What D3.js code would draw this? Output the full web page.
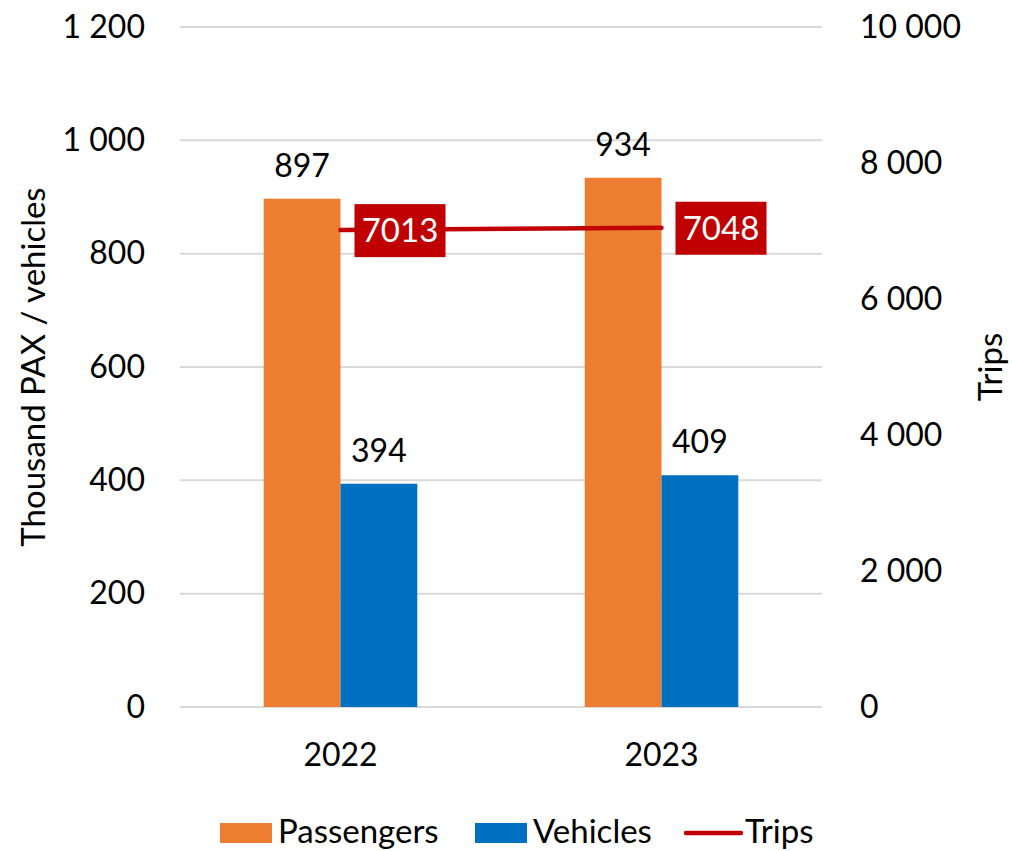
<!DOCTYPE html>
<html lang="en">
<head>
<meta charset="utf-8">
<title>Passengers, vehicles and trips</title>
<script src="https://cdn.jsdelivr.net/npm/d3@7"></script>
<style>
    body { margin: 0; background: #fff; }
    text { font-family: Lato, "Open Sans", sans-serif; fill: #000; }
</style>
</head>
<body>
<script>
    // data
    const years = ["2022", "2023"];
    const passengers = [897, 934];
    const vehicles = [394, 409];
    const trips = [7013, 7048];
    const leftTicks = [0, 200, 400, 600, 800, 1000, 1200];
    const rightTicks = [0, 2000, 4000, 6000, 8000, 10000];

    const W = 1012, H = 851;
    const plot = {left: 180, right: 822, top: 27, bottom: 707};
    const fontSize = 32;
    const colors = {Passengers: "#ED7D31", Vehicles: "#0070C0", Trips: "#C00000"};

    const fmt = v => d3.format(",")(v).replace(/,/g, " ");

    const svg = d3.select("body").append("svg")
        .attr("width", W)
        .attr("height", H);

    const x = d3.scaleBand().domain(years).range([plot.left, plot.right]);
    const xs = d3.scaleBand().domain(["Passengers", "Vehicles"])
        .range([0, x.bandwidth()])
        .paddingInner(0)
        .paddingOuter(1.09);
    const yL = d3.scaleLinear().domain([0, 1200]).range([plot.bottom, plot.top]);
    const yR = d3.scaleLinear().domain([0, 10000]).range([plot.bottom, plot.top]);

    // gridlines
    svg.append("g").selectAll("line")
        .data(leftTicks)
        .join("line")
        .attr("x1", plot.left).attr("x2", plot.right)
        .attr("y1", d => yL(d)).attr("y2", d => yL(d))
        .attr("stroke", "#D9D9D9")
        .attr("stroke-width", 2);

    // left axis
    const leftAxis = d3.axisLeft(yL).tickValues(leftTicks).tickFormat(fmt).tickSize(0).tickPadding(35);
    const gl = svg.append("g").attr("transform", `translate(${plot.left},0)`).call(leftAxis);
    gl.select(".domain").remove();
    gl.selectAll("text").style("font-size", fontSize + "px").attr("fill", "#000").attr("font-family", null);

    // right axis
    const rightAxis = d3.axisRight(yR).tickValues(rightTicks).tickFormat(fmt).tickSize(0).tickPadding(38);
    const gr = svg.append("g").attr("transform", `translate(${plot.right},0)`).call(rightAxis);
    gr.select(".domain").remove();
    gr.selectAll("text").style("font-size", fontSize + "px").attr("fill", "#000").attr("font-family", null);

    // x axis labels
    svg.append("g").selectAll("text")
        .data(years)
        .join("text")
        .attr("x", d => x(d) + x.bandwidth() / 2)
        .attr("y", 766)
        .attr("text-anchor", "middle")
        .style("font-size", fontSize + "px")
        .text(d => d);

    // axis titles
    svg.append("text")
        .attr("transform", "translate(45,367) rotate(-90)")
        .attr("text-anchor", "middle")
        .style("font-size", "33px")
        .text("Thousand PAX / vehicles");

    svg.append("text")
        .attr("transform", "translate(1002,367) rotate(-90)")
        .attr("text-anchor", "middle")
        .style("font-size", "33px")
        .text("Trips");

    // bars
    const series = [
        {name: "Passengers", values: passengers},
        {name: "Vehicles", values: vehicles}
    ];

    series.forEach(s => {
        const g = svg.append("g");
        g.selectAll("rect")
            .data(s.values)
            .join("rect")
            .attr("x", (d, i) => x(years[i]) + xs(s.name))
            .attr("y", d => yL(d))
            .attr("width", xs.bandwidth())
            .attr("height", d => yL(0) - yL(d))
            .attr("fill", colors[s.name]);
        g.selectAll("text")
            .data(s.values)
            .join("text")
            .attr("x", (d, i) => x(years[i]) + xs(s.name) + xs.bandwidth() / 2)
            .attr("y", d => yL(d) - 22)
            .attr("text-anchor", "middle")
            .style("font-size", fontSize + "px")
            .text(d => d);
    });

    // trips line
    const cx = d => x(d) + x.bandwidth() / 2;
    const line = d3.line()
        .x((d, i) => cx(years[i]))
        .y(d => yR(d));

    svg.append("path")
        .datum(trips)
        .attr("d", line)
        .attr("fill", "none")
        .attr("stroke", colors.Trips)
        .attr("stroke-width", 4.5)
        .attr("stroke-linecap", "round");

    // trips labels
    const lab = svg.append("g").selectAll("g")
        .data(trips)
        .join("g")
        .attr("transform", (d, i) => `translate(${cx(years[i]) + 14},${yR(d)})`);
    lab.append("rect")
        .attr("x", 0)
        .attr("y", -26)
        .attr("width", 91)
        .attr("height", 53)
        .attr("fill", colors.Trips);
    lab.append("text")
        .attr("x", 45.5)
        .attr("y", 12)
        .attr("text-anchor", "middle")
        .style("font-size", "33px")
        .style("fill", "#fff")
        .text(d => d);

    // legend
    const legend = svg.append("g");
    const legItems = [
        {name: "Passengers", type: "rect", x: 220},
        {name: "Vehicles", type: "rect", x: 475},
        {name: "Trips", type: "line", x: 686}
    ];
    legItems.forEach(it => {
        if (it.type === "rect") {
            legend.append("rect")
                .attr("x", it.x).attr("y", 823)
                .attr("width", 52).attr("height", 20)
                .attr("fill", colors[it.name]);
        } else {
            legend.append("line")
                .attr("x1", it.x).attr("x2", it.x + 55)
                .attr("y1", 833).attr("y2", 833)
                .attr("stroke", colors[it.name])
                .attr("stroke-width", 4.5)
                .attr("stroke-linecap", "round");
        }
        legend.append("text")
            .attr("x", it.x + (it.type === "rect" ? 58 : 59))
            .attr("y", 843)
            .style("font-size", "33px")
            .text(it.name);
    });
</script>
</body>
</html>
